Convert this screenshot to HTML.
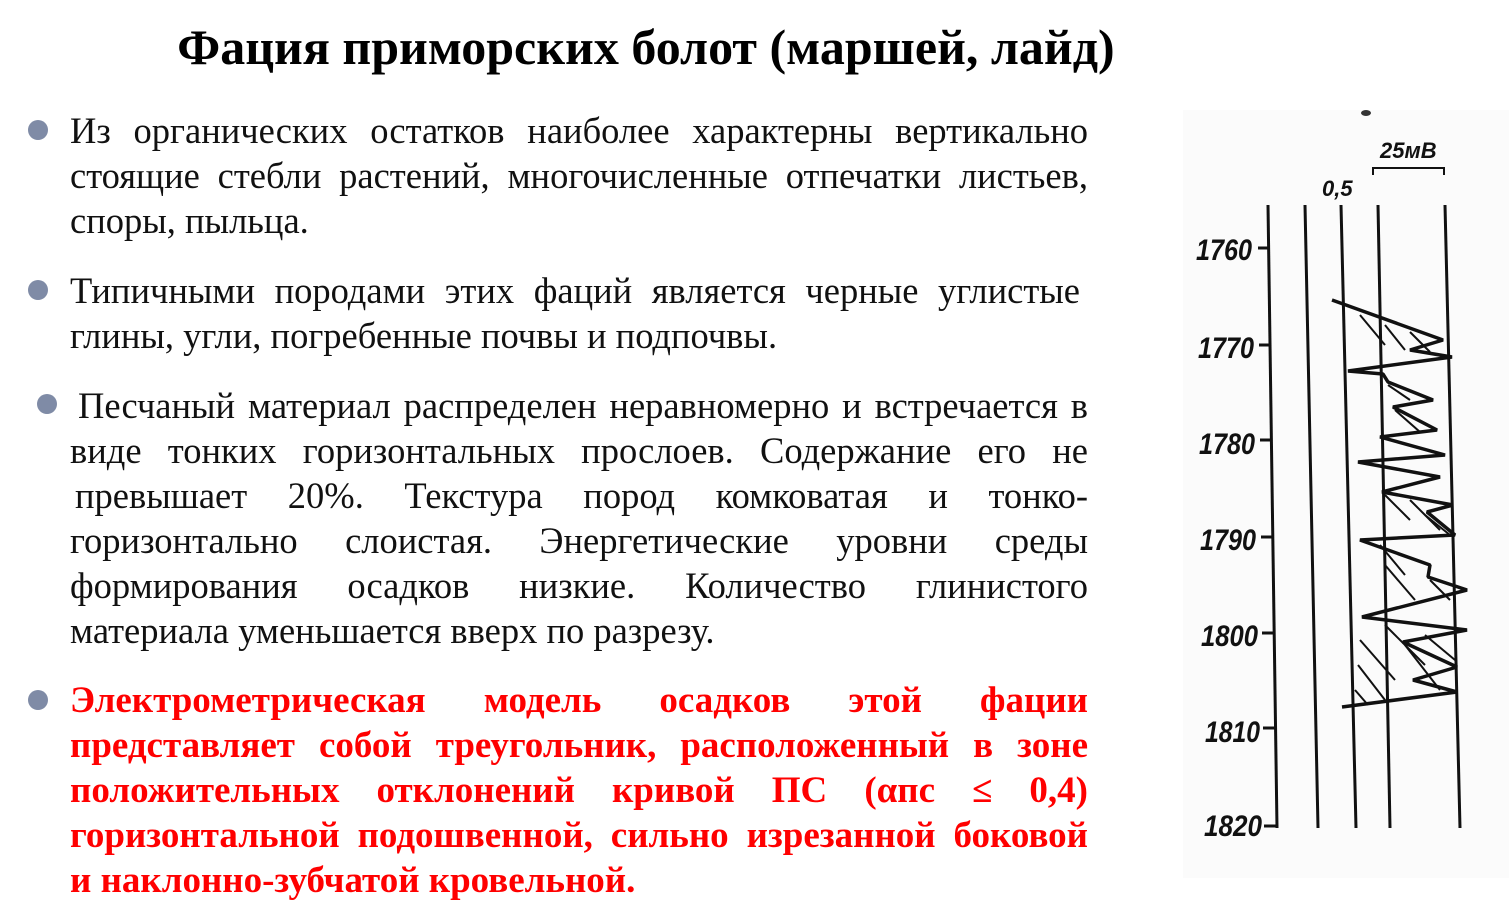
<!DOCTYPE html>
<html><head><meta charset="utf-8"><style>
body{margin:0;width:1509px;height:924px;background:#fff;position:relative;overflow:hidden;font-family:"Liberation Serif","Noto Serif CJK SC",serif;}
.t{position:absolute;left:0;width:1292px;text-align:center;top:18px;font-size:50px;font-weight:bold;color:#000;white-space:nowrap;}
.l{position:absolute;left:70px;width:1018px;font-size:36.5px;line-height:45px;height:45px;white-space:nowrap;color:#111;}
.j{text-align:justify;text-align-last:justify;white-space:normal;}
.r{color:#f00;font-weight:bold;font-size:37px;}
.b{position:absolute;width:20px;height:20px;border-radius:50%;background:#7f8ba6;}
</style></head><body>
<div class="t">Фация приморских болот (маршей, лайд)</div>
<div class="b" style="left:28px;top:120px"></div>
<div class="l j" style="top:108px">Из органических остатков наиболее характерны вертикально</div>
<div class="l j" style="top:153px">стоящие стебли растений, многочисленные отпечатки листьев,</div>
<div class="l" style="top:198px">споры, пыльца.</div>
<div class="b" style="left:28px;top:280px"></div>
<div class="l j" style="top:268px;width:1010px">Типичными породами этих фаций является черные углистые</div>
<div class="l" style="top:313px">глины, угли, погребенные почвы и подпочвы.</div>
<div class="b" style="left:37px;top:394px"></div>
<div class="l j" style="top:383px;left:78px;width:1010px">Песчаный материал распределен неравномерно и встречается в</div>
<div class="l j" style="top:428px">виде тонких горизонтальных прослоев. Содержание его не</div>
<div class="l j" style="top:473px;left:75px;width:1013px">превышает 20%. Текстура пород комковатая и тонко-</div>
<div class="l j" style="top:518px">горизонтально слоистая. Энергетические уровни среды</div>
<div class="l j" style="top:563px">формирования осадков низкие. Количество глинистого</div>
<div class="l" style="top:608px">материала уменьшается вверх по разрезу.</div>
<div class="b" style="left:28px;top:690px"></div>
<div class="l j r" style="top:678px">Электрометрическая модель осадков этой фации</div>
<div class="l j r" style="top:723px">представляет собой треугольник, расположенный в зоне</div>
<div class="l j r" style="top:768px">положительных отклонений кривой ПС (αпс ≤ 0,4)</div>
<div class="l j r" style="top:813px">горизонтальной подошвенной, сильно изрезанной боковой</div>
<div class="l r" style="top:858px">и наклонно-зубчатой кровельной.</div>
<svg style="position:absolute;left:0;top:0" width="1509" height="924">
<rect x="1183" y="110" width="326" height="768" fill="#fbfbfb"/>
<g stroke="#111" stroke-width="3" fill="none">
<line x1="1268" y1="205" x2="1277" y2="828"/>
<line x1="1305" y1="205" x2="1318" y2="828"/>
<line x1="1341" y1="205" x2="1356" y2="828"/>
<line x1="1378" y1="205" x2="1390" y2="828"/>
<line x1="1445" y1="205" x2="1460" y2="828"/>
<line x1="1258" y1="248" x2="1268" y2="248"/>
<line x1="1259" y1="345" x2="1270" y2="345"/>
<line x1="1260" y1="440" x2="1271" y2="440"/>
<line x1="1261" y1="537" x2="1273" y2="537"/>
<line x1="1262" y1="633" x2="1274" y2="633"/>
<line x1="1263" y1="728" x2="1276" y2="728"/>
<line x1="1264" y1="826" x2="1277" y2="826"/>
<polyline stroke-width="2" points="1373,175 1373,168 1444,168 1444,175"/>
<polyline stroke-width="3.5" stroke-linejoin="bevel" points="1332,300 1443,340 1410,350 1452,357 1348,371 1383,374 1388,382 1433,400 1393,407 1437,430 1380,437 1445,455 1358,462 1440,477 1382,492 1453,505 1427,512 1455,535 1360,540 1430,565 1428,577 1467,590 1362,617 1467,630 1403,642 1457,667 1413,680 1457,692 1342,707"/>
<g stroke-width="2">
<line x1="1360" y1="315" x2="1385" y2="345"/><line x1="1385" y1="325" x2="1405" y2="350"/><line x1="1410" y1="332" x2="1430" y2="352"/>
<line x1="1388" y1="385" x2="1410" y2="400"/><line x1="1395" y1="410" x2="1420" y2="432"/>
<line x1="1385" y1="495" x2="1410" y2="520"/><line x1="1410" y1="500" x2="1440" y2="530"/><line x1="1425" y1="515" x2="1450" y2="535"/>
<line x1="1380" y1="545" x2="1405" y2="575"/><line x1="1385" y1="565" x2="1415" y2="600"/><line x1="1430" y1="580" x2="1450" y2="600"/>
<line x1="1360" y1="640" x2="1395" y2="680"/><line x1="1358" y1="665" x2="1385" y2="700"/><line x1="1385" y1="625" x2="1425" y2="665"/><line x1="1405" y1="645" x2="1440" y2="690"/><line x1="1425" y1="635" x2="1455" y2="660"/><line x1="1355" y1="690" x2="1368" y2="705"/>
</g></g>
<g font-family="Liberation Sans,sans-serif" font-weight="bold" font-style="italic" fill="#111" font-size="30">
<text x="1196" y="260" textLength="56" lengthAdjust="spacingAndGlyphs">1760</text>
<text x="1198" y="358" textLength="56" lengthAdjust="spacingAndGlyphs">1770</text>
<text x="1199" y="454" textLength="56" lengthAdjust="spacingAndGlyphs">1780</text>
<text x="1200" y="550" textLength="56" lengthAdjust="spacingAndGlyphs">1790</text>
<text x="1201" y="646" textLength="57" lengthAdjust="spacingAndGlyphs">1800</text>
<text x="1205" y="742" textLength="55" lengthAdjust="spacingAndGlyphs">1810</text>
<text x="1204" y="836" textLength="58" lengthAdjust="spacingAndGlyphs">1820</text>
<text x="1322" y="196" font-size="22">0,5</text>
<text x="1380" y="158" font-size="22">25мВ</text>
</g>
<ellipse cx="1366" cy="113" rx="5" ry="3" fill="#333"/>
</svg>
</body></html>
